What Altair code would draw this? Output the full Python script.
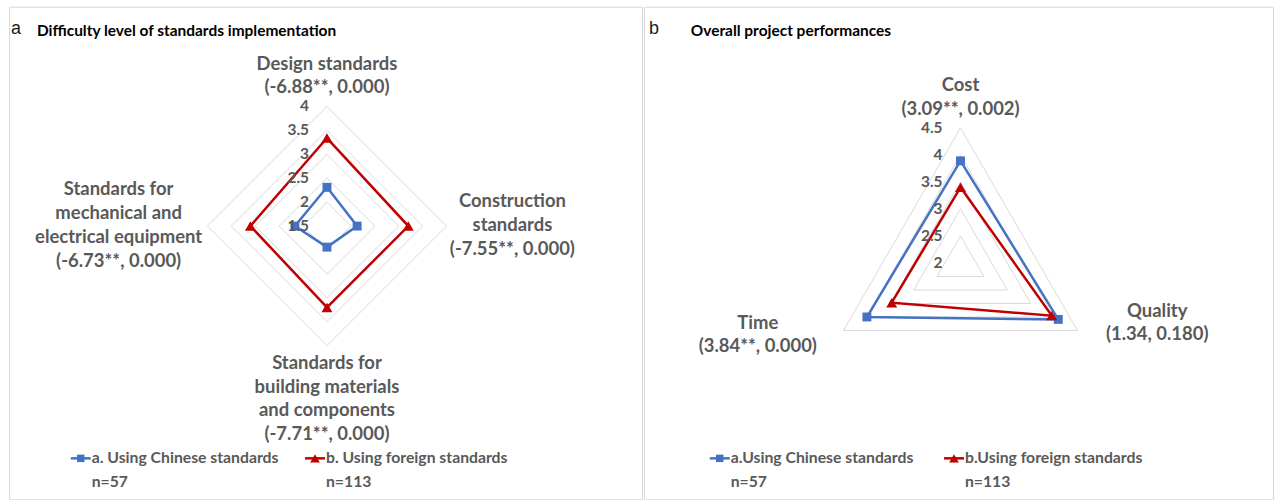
import altair as alt
import numpy as np
import pandas as pd

# ---- panel a: difficulty of implementing standards ----
a_categories = [
    "Design standards\n(-6.88**, 0.000)",
    "Construction\nstandards\n(-7.55**, 0.000)",
    "Standards for\nbuilding materials\nand components\n(-7.71**, 0.000)",
    "Standards for\nmechanical and\nelectrical equipment\n(-6.73**, 0.000)",
]
a_series = ["a. Using Chinese standards\nn=57", "b. Using foreign standards\nn=113"]
a_chinese = [2.31, 2.13, 1.94, 2.17]
a_foreign = [3.34, 3.20, 3.20, 3.10]
a_ticks = [1.5, 2, 2.5, 3, 3.5, 4]

# ---- panel b: overall project performance ----
b_categories = [
    "Cost\n(3.09**, 0.002)",
    "Quality\n(1.34, 0.180)",
    "Time\n(3.84**, 0.000)",
]
b_series = ["a.Using Chinese standards\nn=57", "b.Using foreign standards\nn=113"]
b_chinese = [3.89, 4.09, 4.00]
b_foreign = [3.40, 3.95, 3.47]
b_ticks = [2, 2.5, 3, 3.5, 4, 4.5]

FONT = "Lato"
GRAY = "#595959"
BLUE = "#4472C4"
RED = "#C00000"
GRID = "#D9D9D9"


def radar(categories, series_names, series_values, ticks, *, width, height,
          cx, cy, ppu, label_offsets, letter, letter_x, title, title_x,
          legend_symbol_px, legend_y_px, tick_dx):
    n = len(categories)
    vmin = ticks[0]
    angles = [2 * np.pi * i / n for i in range(n)]

    def polar(v, i):
        r = v - vmin
        return r * np.sin(angles[i]), r * np.cos(angles[i])

    def from_px(px, py):
        # panel pixel position -> data units of this panel's scales
        return (px - cx) / ppu, (cy - py) / ppu

    xdom = [-cx / ppu, (width - cx) / ppu]
    ydom = [-(height - cy) / ppu, cy / ppu]

    def X(field="x"):
        return alt.X(f"{field}:Q", scale=alt.Scale(domain=xdom, nice=False, zero=False), axis=None)

    def Y(field="y"):
        return alt.Y(f"{field}:Q", scale=alt.Scale(domain=ydom, nice=False, zero=False), axis=None)

    color = alt.Color("series:N", scale=alt.Scale(domain=series_names, range=[BLUE, RED]), legend=None)

    # grid rings
    ring_rows = []
    for t in ticks[1:]:
        for k in range(n + 1):
            x, y = polar(t, k % n)
            ring_rows.append({"level": t, "k": k, "x": x, "y": y})
    rings = alt.Chart(pd.DataFrame(ring_rows)).mark_line(
        color=GRID, strokeWidth=1
    ).encode(X(), Y(), detail="level:N", order="k:Q")

    # series polygons
    rows = []
    for s, (name, vals) in enumerate(zip(series_names, series_values)):
        for k in range(n + 1):
            x, y = polar(vals[k % n], k % n)
            rows.append({"series": name, "sidx": s, "k": k, "x": x, "y": y, "value": vals[k % n]})
    sdf = pd.DataFrame(rows)
    lines = alt.Chart(sdf).mark_line(strokeWidth=2.5).encode(X(), Y(), color=color, order="k:Q")
    squares = alt.Chart(sdf).transform_filter(
        f"datum.sidx == 0 && datum.k < {n}"
    ).mark_square(size=80, opacity=1).encode(X(), Y(), color=color)
    triangles = alt.Chart(sdf).transform_filter(
        f"datum.sidx == 1 && datum.k < {n}"
    ).mark_point(shape="triangle-up", filled=True, size=120, opacity=1).encode(X(), Y(), color=color)

    # value labels along the vertical axis
    tdf = pd.DataFrame({"x": [0.0] * len(ticks), "y": [t - vmin for t in ticks],
                        "label": [f"{t:g}" for t in ticks]})
    tick_text = alt.Chart(tdf).mark_text(
        align="right", baseline="middle", dx=tick_dx, font=FONT, fontSize=15.5,
        fontWeight="bold", color=GRAY
    ).encode(X(), Y(), text="label:N")

    # category labels beyond the outer ring (anchor = first text line)
    crow = []
    for i, (cat, (ox, oy)) in enumerate(zip(categories, label_offsets)):
        vx, vy = polar(ticks[-1], i)
        crow.append({"label": cat, "x": vx + ox / ppu, "y": vy - oy / ppu})
    cat_text = alt.Chart(pd.DataFrame(crow)).transform_calculate(
        lines="split(datum.label, '\\n')"
    ).mark_text(
        align="center", baseline="middle", font=FONT, fontSize=18.5,
        fontWeight="bold", color=GRAY, lineHeight=24
    ).encode(X(), Y(), text="lines:N")

    # legend: line-and-marker swatch plus a two-line label for each series
    lrows = []
    for s, (name, sx) in enumerate(zip(series_names, legend_symbol_px)):
        x0, y0 = from_px(sx - 10, legend_y_px)
        x1, _ = from_px(sx + 10, legend_y_px)
        xm, _ = from_px(sx, legend_y_px)
        xt, _ = from_px(sx + 11, legend_y_px)
        lrows.append({"series": name, "sidx": s, "x0": x0, "x1": x1, "xm": xm,
                      "xt": xt, "y": y0})
    ldf = pd.DataFrame(lrows)
    leg_line = alt.Chart(ldf).mark_rule(strokeWidth=2.5).encode(
        x=X("x0"), x2="x1:Q", y=Y(), color=color
    )
    leg_square = alt.Chart(ldf).transform_filter("datum.sidx == 0").mark_square(
        size=56, opacity=1
    ).encode(x=X("xm"), y=Y(), color=color)
    leg_triangle = alt.Chart(ldf).transform_filter("datum.sidx == 1").mark_point(
        shape="triangle-up", filled=True, size=95, opacity=1
    ).encode(x=X("xm"), y=Y(), color=color)
    leg_text = alt.Chart(ldf).transform_calculate(
        lines="split(datum.series, '\\n')"
    ).mark_text(
        align="left", baseline="middle", font=FONT, fontSize=15.8,
        fontWeight="bold", color=GRAY, lineHeight=24
    ).encode(x=X("xt"), y=Y(), text="lines:N")

    head = pd.DataFrame({"letter": [letter], "title": [title]})
    letter_text = alt.Chart(head).mark_text(
        align="left", baseline="middle", font="Liberation Sans", fontSize=18, color="#1a1a1a"
    ).encode(x=alt.value(letter_x), y=alt.value(22), text="letter:N")
    title_text = alt.Chart(head).mark_text(
        align="left", baseline="middle", font=FONT, fontSize=15.5, fontWeight="bold", color="#000000"
    ).encode(x=alt.value(title_x), y=alt.value(24), text="title:N")

    return alt.layer(
        rings, lines, squares, triangles, tick_text, cat_text,
        leg_line, leg_square, leg_triangle, leg_text, letter_text, title_text
    ).properties(width=width, height=height)


panel_a = radar(
    a_categories, a_series, [a_chinese, a_foreign], a_ticks,
    width=635, height=494, cx=319, cy=220, ppu=48,
    label_offsets=[(0, -43), (66, -25), (0, 17), (-89, -37)],
    letter="a", letter_x=2, title="Difficulty level of standards implementation", title_x=28,
    legend_symbol_px=[72, 307], legend_y_px=453, tick_dx=-18,
)
panel_b = radar(
    b_categories, b_series, [b_chinese, b_foreign], b_ticks,
    width=631, height=494, cx=317.5, cy=257, ppu=54.2,
    label_offsets=[(0, -42.5), (80, -20), (-86, -8)],
    letter="b", letter_x=5, title="Overall project performances", title_x=47,
    legend_symbol_px=[76, 311], legend_y_px=453, tick_dx=-18,
)

chart = alt.hconcat(panel_a, panel_b, spacing=0).resolve_scale(
    color="independent"
).properties(
    padding={"left": 8, "top": 5, "right": 0, "bottom": 0}
).configure_view(
    stroke=GRID, strokeWidth=1
)

chart.save("out.html", embed_options={"renderer": "svg", "actions": False})
